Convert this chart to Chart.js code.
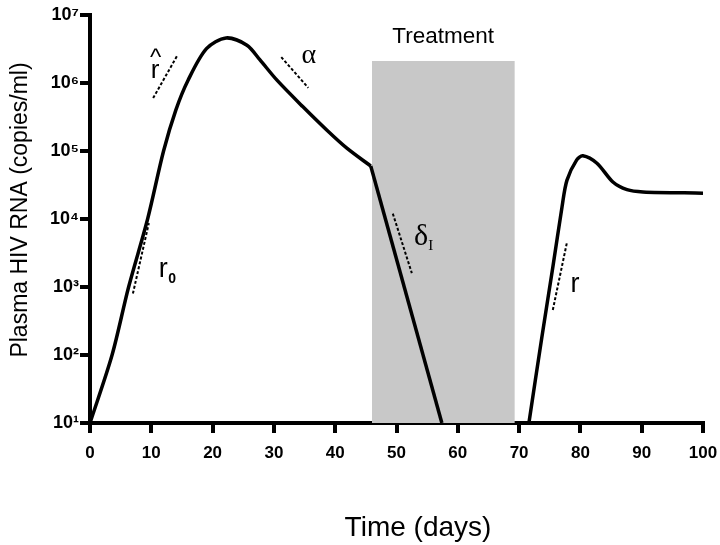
<!DOCTYPE html>
<html>
<head>
<meta charset="utf-8">
<script src="https://cdn.jsdelivr.net/npm/chart.js@4.4.1/dist/chart.umd.min.js"></script>
<style>
  html, body { margin: 0; padding: 0; background: #fff; }
  #wrap { width: 720px; height: 545px; }
</style>
</head>
<body>
<div id="wrap"><canvas id="hiv"></canvas></div>
<script>
// acute infection before treatment (copies/ml)
const acuteDays = [0, 3.6, 6.3, 9.4, 12.0, 14.0, 16.0, 19.0, 22.2, 25.6, 27.7, 30.5, 34.7, 38.7, 41.9, 45.8];
const acuteLoad = [10, 100, 1000, 1e4, 1e5, 4.0e5, 1.1e6, 3.2e6, 4.6e6, 3.6e6, 2.2e6, 1.1e6, 4.5e5, 2.0e5, 1.1e5, 6.0e4];

// decay under treatment
const decayDays = [45.8, 57.4];
const decayLoad = [6.0e4, 10];

// rebound after treatment stops
const reboundDays = [71.6, 73.7, 75.5, 77.0, 77.8, 79.4, 80.4, 82.7, 85.3, 87.6, 90.2, 100];
const reboundLoad = [10, 180, 1950, 1.5e4, 3.7e4, 7.4e4, 8.5e4, 6.6e4, 3.5e4, 2.7e4, 2.5e4, 2.4e4];

// treatment window
const treatmentDays = [46, 69.3];
const treatmentTop = 2.1e6;

// dashed slope marks: [day1, day2], [load1, load2]
const r0Days = [7.0, 9.6],     r0Load = [800, 8700];
const rHatDays = [10.3, 14.2], rHatLoad = [6.0e5, 2.5e6];
const alphaDays = [31.2, 35.6], alphaLoad = [2.4e6, 8.5e5];
const deltaDays = [49.4, 52.5], deltaLoad = [1.2e4, 1600];
const rDays = [75.5, 77.8],    rLoad = [460, 4500];

const xTicks = [0, 10, 20, 30, 40, 50, 60, 70, 80, 90, 100];
const yTicks = [10, 100, 1000, 1e4, 1e5, 1e6, 1e7];
const yTickLabels = ['10¹', '10²', '10³', '10⁴', '10⁵', '10⁶', '10⁷'];

const SANS = '"Liberation Sans", Arial, sans-serif';
const SERIF = '"Liberation Serif", "Times New Roman", serif';

function pts(days, vals) {
  return days.map((d, i) => ({ x: d, y: vals[i] }));
}

function curve(days, vals, tension) {
  return {
    data: pts(days, vals),
    borderColor: '#000',
    borderWidth: 3.5,
    pointRadius: 0,
    tension: tension,
    fill: false,
    order: 0
  };
}

function dashed(days, vals) {
  return {
    data: pts(days, vals),
    borderColor: '#000',
    borderWidth: 2,
    borderDash: [3, 2],
    pointRadius: 0,
    fill: false,
    order: 1
  };
}

// text labels, anchored in data units (baseline)
const annotate = {
  id: 'annotate',
  afterDraw(chart) {
    const ctx = chart.ctx;
    const x = chart.scales.x, y = chart.scales.y;
    const put = (txt, font, day, load) => {
      ctx.font = font;
      ctx.fillText(txt, x.getPixelForValue(day), y.getPixelForValue(load));
    };
    ctx.save();
    ctx.fillStyle = '#000';
    ctx.textAlign = 'center';
    ctx.textBaseline = 'alphabetic';

    put('Treatment', '22.5px ' + SANS, 57.6, 3.9e6);

    put('r', '27px ' + SANS, 11.95, 1400);
    put('0', 'bold 14px ' + SANS, 13.4, 1150);

    put('r', '26px ' + SANS, 10.6, 1.17e6);
    put('^', '24px ' + SANS, 10.7, 1.85e6);

    put('α', '28px ' + SERIF, 35.7, 1.96e6);

    put('δ', '30px ' + SERIF, 54.0, 4200);
    put('I', '15px ' + SERIF, 55.6, 3450);

    put('r', '27px ' + SANS, 79.1, 850);

    // axis titles
    ctx.font = '28px ' + SANS;
    ctx.fillText('Time (days)', 418, 536);
    ctx.translate(21, 210);
    ctx.rotate(-Math.PI / 2);
    ctx.textBaseline = 'middle';
    ctx.font = '23px ' + SANS;
    ctx.fillText('Plasma HIV RNA (copies/ml)', 0, 0);
    ctx.restore();
  }
};

const ctx = document.getElementById('hiv').getContext('2d');

new Chart(ctx, {
  type: 'line',
  data: {
    datasets: [
      curve(acuteDays, acuteLoad, 0.3),
      curve(decayDays, decayLoad, 0),
      curve(reboundDays, reboundLoad, 0.3),
      dashed(r0Days, r0Load),
      dashed(rHatDays, rHatLoad),
      dashed(alphaDays, alphaLoad),
      dashed(deltaDays, deltaLoad),
      dashed(rDays, rLoad),
      {
        data: pts(treatmentDays, [treatmentTop, treatmentTop]),
        borderWidth: 0,
        borderColor: 'rgba(0,0,0,0)',
        backgroundColor: '#c8c8c8',
        pointRadius: 0,
        fill: 'start',
        order: 10
      }
    ]
  },
  options: {
    responsive: true,
    maintainAspectRatio: false,
    devicePixelRatio: 1,
    animation: false,
    layout: { padding: { top: 15, right: 17, left: 0, bottom: 0 } },
    plugins: {
      legend: { display: false },
      tooltip: { enabled: false }
    },
    scales: {
      x: {
        type: 'linear',
        min: 0,
        max: 100,
        afterBuildTicks: s => { s.ticks = xTicks.map(v => ({ value: v })); },
        afterFit: s => { s.height = 122; s.paddingLeft = 0; s.paddingRight = 0; },
        border: { color: '#000', width: 4 },
        grid: { drawOnChartArea: false, color: '#000', lineWidth: 4, tickLength: 10 },
        ticks: {
          color: '#000',
          padding: 10,
          maxRotation: 0,
          font: { family: SANS, weight: 'bold', size: 17 }
        }
      },
      y: {
        type: 'logarithmic',
        min: 10,
        max: 1e7,
        afterBuildTicks: s => { s.ticks = yTicks.map(v => ({ value: v })); },
        afterFit: s => { s.width = 90; s.paddingTop = 0; s.paddingBottom = 0; },
        border: { color: '#000', width: 4 },
        grid: { drawOnChartArea: false, color: '#000', lineWidth: 4, tickLength: 10 },
        ticks: {
          color: '#000',
          padding: 1,
          callback: (v) => yTickLabels[yTicks.indexOf(v)],
          font: { family: SANS, weight: 'bold', size: 18 }
        }
      }
    }
  },
  plugins: [annotate]
});
</script>
</body>
</html>
